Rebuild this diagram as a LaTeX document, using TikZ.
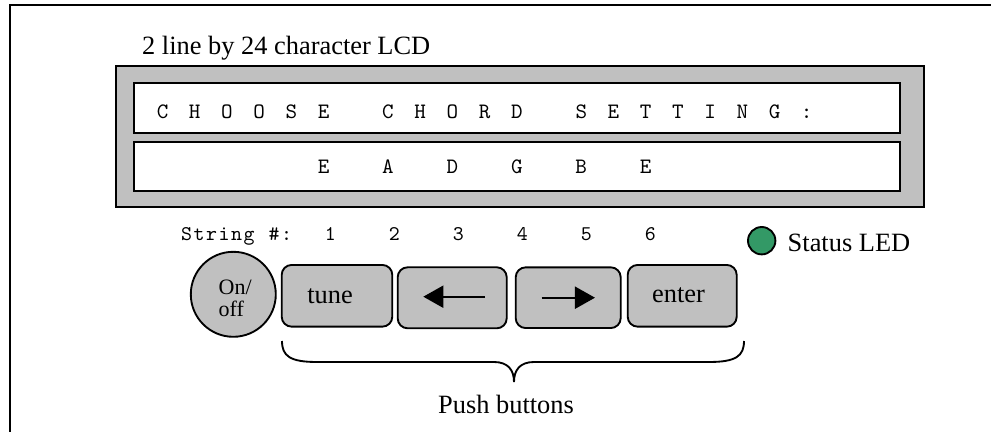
\documentclass[tikz,border=0pt]{standalone}
\usepackage{fontspec}
\setmainfont{Liberation Serif}
\usetikzlibrary{arrows.meta}

% one drawing unit, used for sizes given in drawing units
\newcommand\upx{0.4545pt}

% set a string in fixed-width cells, one cell per character
\ExplSyntaxOn
\NewDocumentCommand\pitched{mm}
  {\str_map_inline:nn {#2} {\makebox[#1][c]{##1}}}
\ExplSyntaxOff

\definecolor{panelgray}{RGB}{192,192,192}
\definecolor{ledgreen}{RGB}{51,153,102}

\tikzset{
  outline/.style={line width=0.85pt},
  lcdcase/.style={outline, draw, fill=panelgray, inner sep=0pt},
  lcdrow/.style={outline, draw, fill=white, inner sep=0pt,
    minimum width=766*\upx, minimum height=49.4*\upx},
  pushbtn/.style={outline, draw, fill=panelgray, rounded corners=4.5pt,
    inner sep=0pt},
  powerbtn/.style={outline, draw, fill=panelgray, circle, inner sep=0pt,
    minimum size=85*\upx},
  ledlamp/.style={outline, draw, fill=ledgreen, circle, inner sep=0pt,
    minimum size=27.4*\upx},
  serif/.style={inner sep=0pt, font=\fontsize{12}{14}\selectfont},
  smallserif/.style={inner sep=0pt, font=\fontsize{10}{12}\selectfont},
  lcdchars/.style={inner sep=0pt, font=\ttfamily\fontsize{10}{12}\selectfont},
  labelchars/.style={inner sep=0pt, font=\ttfamily\fontsize{9.5}{11}\selectfont},
  keyarrow/.style={line width=0.9pt, -{Triangle[length=9.1pt, width=10pt]}},
  bracepath/.style={line width=0.85pt},
}

\begin{document}
\begin{tikzpicture}[x=0.4545pt, y={(0pt,-0.4545pt)}]
  \useasboundingbox (0,0) rectangle (991,432);

  % enclosing panel edge (left and top sides)
  \draw[outline] (10,432) -- (10,5.3) -- (991,5.3);

  % LCD module
  \node[serif, anchor=base west] (lcdtitle) at (141.7,55) {2 line by 24 character LCD};
  \node[lcdcase, minimum width=808*\upx, minimum height=141*\upx] (lcd) at (520,136.5) {};
  \node[lcdrow] (row1) at (517,108) {};
  \node[lcdrow] (row2) at (517,166.7) {};
  \node[lcdchars, anchor=base west] (row1text) at (146,118.3)
    {\pitched{14.64pt}{CHOOSE CHORD SETTING:}};
  \node[lcdchars, anchor=base west] (row2text) at (307,173.3)
    {\pitched{14.64pt}{E A D G B E}};

  % string numbers above the keys
  \node[labelchars, anchor=base west] (stringlbl) at (180,240.7)
    {\pitched{5.68pt}{String}\hspace*{5.68pt}\makebox[5.68pt][c]{\#}\makebox[5.68pt][c]{:}};
  \node[labelchars, anchor=base west] (stringnums) at (298,240.7)
    {\pitched{29.09pt}{123456}};

  % status LED
  \node[ledlamp] (led) at (761.7,240.7) {};
  \node[serif, anchor=base west] (ledlbl) at (787.3,251.7) {Status LED};

  % power button
  \node[powerbtn] (onoff) at (233.3,294.3) {};
  \node[smallserif, anchor=base west] (onlbl) at (218.3,294) {On/};
  \node[smallserif, anchor=base west] (offlbl) at (218.3,316.7) {off};

  % push buttons
  \node[pushbtn, minimum width=110.6*\upx, minimum height=61.7*\upx] (tune) at (337,295.8) {};
  \node[pushbtn, minimum width=109*\upx, minimum height=61*\upx] (left) at (452.2,297.8) {};
  \node[pushbtn, minimum width=105*\upx, minimum height=60.7*\upx] (right) at (568.2,297.7) {};
  \node[pushbtn, minimum width=109*\upx, minimum height=61.7*\upx] (enter) at (682.2,295.8) {};

  \node[serif, anchor=base] (tunelbl) at (330,303) {tune};
  \node[serif, anchor=base] (enterlbl) at (678.5,302.7) {enter};

  \coordinate (lefttail) at (485,296.7);
  \coordinate (lefthead) at (423.3,296.7);
  \coordinate (righttail) at (541.7,297.7);
  \coordinate (righthead) at (595,297.7);
  \draw[keyarrow] (lefttail) -- (lefthead);
  \draw[keyarrow] (righttail) -- (righthead);

  % brace grouping the push buttons
  \coordinate (braceL) at (282,341);
  \coordinate (braceR) at (744,341);
  \coordinate (braceTip) at (514,382);
  \draw[bracepath] (braceL) .. controls (282,356) and (290,362) .. (317,362)
    -- (494,362) .. controls (508,362) and (514,370) .. (braceTip)
    .. controls (514,370) and (520,362) .. (534,362)
    -- (709,362) .. controls (736,362) and (744,356) .. (braceR);
  \node[serif, anchor=base] (pushlbl) at (506,413) {Push buttons};
\end{tikzpicture}
\end{document}
